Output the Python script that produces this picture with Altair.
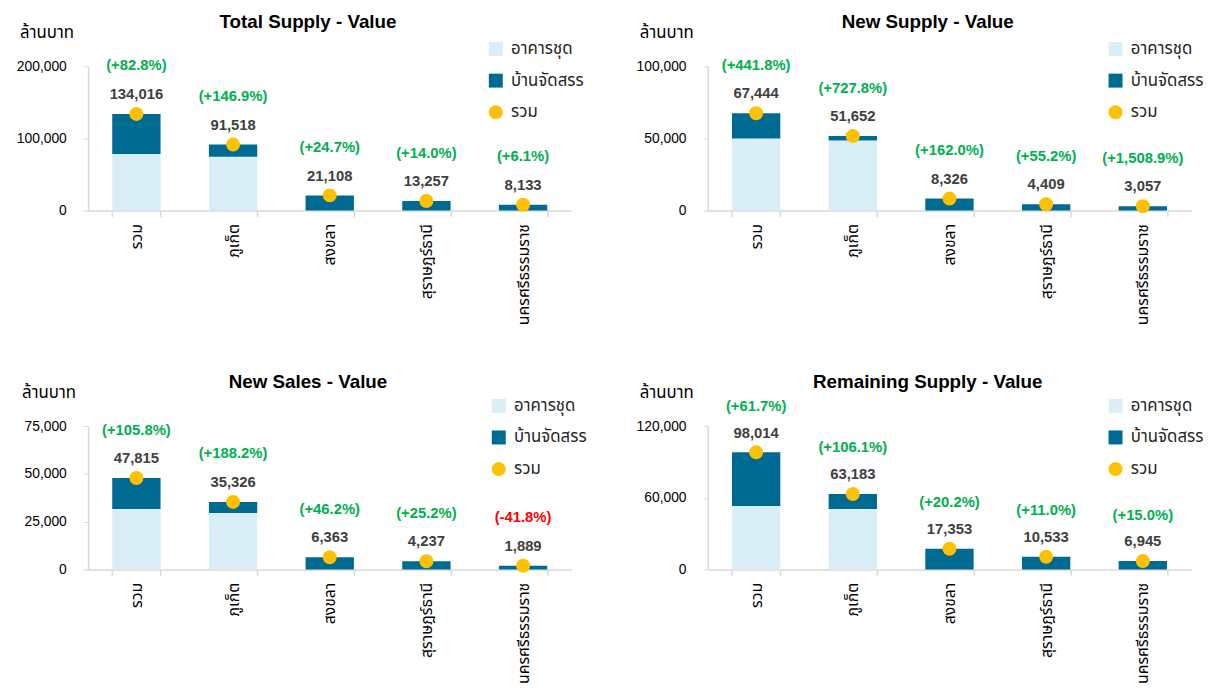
import altair as alt
import pandas as pd

cats = ["รวม", "ภูเก็ต", "สงขลา", "สุราษฎร์ธานี", "นครศรีธรรมราช"]
series_names = ["อาคารชุด", "บ้านจัดสรร", "รวม"]

# Total Supply - Value
ts_condo = [78300, 74600, 0, 0, 0]
ts_house = [55716, 16918, 21108, 13257, 8133]
ts_total = [134016, 91518, 21108, 13257, 8133]
ts_pct = ["(+82.8%)", "(+146.9%)", "(+24.7%)", "(+14.0%)", "(+6.1%)"]

# New Supply - Value
ns_condo = [49900, 48500, 0, 0, 0]
ns_house = [17544, 3152, 8326, 4409, 3057]
ns_total = [67444, 51652, 8326, 4409, 3057]
ns_pct = ["(+441.8%)", "(+727.8%)", "(+162.0%)", "(+55.2%)", "(+1,508.9%)"]

# New Sales - Value
sl_condo = [31600, 29500, 0, 0, 0]
sl_house = [16215, 5826, 6363, 4237, 1889]
sl_total = [47815, 35326, 6363, 4237, 1889]
sl_pct = ["(+105.8%)", "(+188.2%)", "(+46.2%)", "(+25.2%)", "(-41.8%)"]

# Remaining Supply - Value
rs_condo = [53000, 50500, 0, 0, 0]
rs_house = [45014, 12683, 17353, 10533, 6945]
rs_total = [98014, 63183, 17353, 10533, 6945]
rs_pct = ["(+61.7%)", "(+106.1%)", "(+20.2%)", "(+11.0%)", "(+15.0%)"]

FONT = "Liberation Sans, Arial, Noto Sans Thai, Tahoma, sans-serif"
LIGHT = "#DAEEF7"
DARK = "#006B92"
GOLD = "#FFC000"
GREEN = "#00B050"
RED = "#FF0000"
AXC = "#D9D9D9"


def legend(leg_x, leg_y):
    return alt.Legend(title=None, orient="none", legendX=leg_x, legendY=leg_y,
                      symbolSize=200, labelFontSize=17, labelFont=FONT,
                      labelColor="#262626", rowPadding=14, symbolStrokeWidth=0,
                      labelOffset=7)


def panel(title, condo, house, total, pct, ymax, step, pct_dy, ytitle_x, leg_x, leg_y, h):
    bars = pd.DataFrame({
        "cat": cats * 2,
        "series": [series_names[0]] * 5 + [series_names[1]] * 5,
        "value": condo + house,
        "ord": [0] * 5 + [1] * 5,
    })
    tot = pd.DataFrame({"cat": cats, "series": series_names[2], "value": total, "pct": pct})

    xenc = alt.X("cat:N", sort=cats, title=None,
                 scale=alt.Scale(paddingInner=0.5, paddingOuter=0.25),
                 axis=alt.Axis(labelAngle=270, labelAlign="right", labelBaseline="middle",
                               labelFontSize=16, labelColor="#000", labelFont=FONT,
                               labelPadding=7, tickBand="extent", tickSize=6, tickColor=AXC,
                               domainColor=AXC, domainWidth=1.5, tickWidth=1.5))
    yscale = alt.Scale(domain=[0, ymax], nice=False)
    yaxis = alt.Axis(values=list(range(0, ymax + 1, step)), format=",d", grid=False,
                     labelFontSize=14, labelColor="#000", labelFont=FONT, labelPadding=17,
                     tickSize=5, tickColor=AXC, domainColor=AXC, domainWidth=1.5,
                     title="ล้านบาท", titleAngle=0, titleAlign="center", titleBaseline="middle",
                     titleX=ytitle_x, titleY=-34, titleFontSize=17, titleFontWeight="normal",
                     titleFont=FONT, titleColor="#000")
    color = alt.Color("series:N",
                      scale=alt.Scale(domain=series_names, range=[LIGHT, DARK, GOLD]),
                      legend=legend(leg_x, leg_y))
    shape = alt.Shape("series:N",
                      scale=alt.Scale(domain=series_names, range=["square", "square", "circle"]),
                      legend=legend(leg_x, leg_y))

    bar_layer = alt.Chart(bars).mark_bar().encode(
        x=xenc,
        y=alt.Y("value:Q", stack="zero", scale=yscale, axis=yaxis),
        color=color,
        order=alt.Order("ord:Q"),
    )
    dot_layer = alt.Chart(tot).mark_point(filled=True, size=200, opacity=1).encode(
        x=alt.X("cat:N", sort=cats),
        y=alt.Y("value:Q"),
        color=color,
        shape=shape,
    )
    val_layer = alt.Chart(tot).mark_text(dy=-20, fontSize=15, fontWeight="bold", font=FONT,
                                         color="#404040").encode(
        x=alt.X("cat:N", sort=cats),
        y=alt.Y("value:Q"),
        text=alt.Text("value:Q", format=","),
    )
    pct_layer = alt.Chart(tot).mark_text(dy=pct_dy, fontSize=15, fontWeight="bold", font=FONT).encode(
        x=alt.X("cat:N", sort=cats),
        y=alt.Y("value:Q"),
        text="pct:N",
        color=alt.condition("indexof(datum.pct, '-') >= 0", alt.value(RED), alt.value(GREEN)),
    )
    return alt.layer(bar_layer, dot_layer, val_layer, pct_layer).properties(
        width=489, height=h,
        title=alt.TitleParams(title, fontSize=19, fontWeight="bold", font=FONT, color="#000",
                              anchor="middle", dx=-22, offset=0, dy=8),
    )


p1 = panel("Total Supply - Value", ts_condo, ts_house, ts_total, ts_pct, 200000, 100000, -49, -42, 404, -26, 146)
p2 = panel("New Supply - Value", ns_condo, ns_house, ns_total, ns_pct, 100000, 50000, -49, -42, 404, -26, 146)
p3 = panel("New Sales - Value", sl_condo, sl_house, sl_total, sl_pct, 75000, 25000, -49, -40, 407, -29, 145)
p4 = panel("Remaining Supply - Value", rs_condo, rs_house, rs_total, rs_pct, 120000, 60000, -47, -42, 404, -29, 145)

chart = alt.concat(p1, p2, p3, p4, columns=2, spacing={"row": 218, "column": 138}).properties(
    bounds="flush",
    padding={"left": 8, "top": 1, "right": 0, "bottom": 0},
).resolve_scale(
    color="independent", shape="independent"
).resolve_legend(
    color="independent", shape="independent"
).configure_view(stroke=None)

chart.save("out.html", embed_options={"renderer": "svg", "actions": False})
